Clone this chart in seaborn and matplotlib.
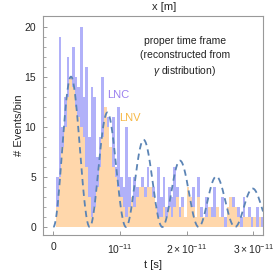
import numpy as np
import pandas as pd
import matplotlib
matplotlib.use("Agg")
import matplotlib.pyplot as plt
import seaborn as sns

sns.set_style("white")
plt.rcParams['font.family'] = ['Liberation Sans', 'DejaVu Sans']
plt.rcParams['mathtext.fontset'] = 'custom'
plt.rcParams['mathtext.rm'] = 'Liberation Sans'
plt.rcParams['mathtext.it'] = 'Liberation Sans:italic'

# bins in units of 1e-11 s
bin_width = 0.04
bin_start = 0.04
lnc_counts = [5, 19, 10, 13, 17, 12, 18, 15, 14, 20, 13, 16, 9, 14, 13, 7, 9, 15, 9, 11,
              8, 11, 6, 12, 5, 4, 10, 5, 3, 5, 4, 3, 5, 4, 6, 3, 4, 2, 6, 3,
              5, 2, 4, 3, 6, 4, 2, 3, 1, 3, 2, 4, 1, 5, 2, 1, 3, 1, 2, 4,
              2, 1, 3, 1, 2, 1, 3, 1, 2, 1, 3, 1, 2, 1, 1, 2, 1, 1]
lnv_counts = [2, 5, 8, 10, 13, 15, 14, 12, 11, 10, 9, 6, 3, 1, 2, 4, 6, 9, 12, 10,
              8, 6, 5, 4, 3, 2, 1, 2, 3, 2, 3, 4, 4, 3, 4, 4, 3, 2, 1, 1,
              2, 1, 2, 1, 2, 3, 1, 2, 1, 4, 3, 2, 1, 3, 1, 1, 1, 2, 1, 1,
              2, 1, 1, 0, 2, 3, 2, 2, 1, 0, 1, 1, 1, 0, 1, 0, 1, 0]

# theoretical oscillation curve parameters (units of 1e-11 s)
osc_amplitude = 17.2
osc_decay = 2.0
osc_period = 0.545

x_ticks = [0, 1, 2, 3]
x_tick_labels = ["0", r"$10^{-11}$", r"$2\times10^{-11}$", r"$3\times10^{-11}$"]
y_ticks = [0, 5, 10, 15, 20]

n = len(lnc_counts)
centers = bin_start + bin_width * (np.arange(n) + 0.5)
df = pd.DataFrame({"t": centers, "LNC": lnc_counts, "LNV": lnv_counts})
brange = (bin_start, bin_start + bin_width * n)

fig = plt.figure(figsize=(2.8, 2.75), dpi=100)
ax = fig.add_axes([43/280, 40/275, 220/280, 219/275])

sns.histplot(data=df, x="t", weights="LNC", binwidth=bin_width, binrange=brange, ax=ax,
             color="#b1b1f9", alpha=1.0, linewidth=0, element="bars")
sns.histplot(data=df, x="t", weights="LNV", binwidth=bin_width, binrange=brange, ax=ax,
             color="#ffd7ab", alpha=1.0, linewidth=0, element="bars")

tt = np.linspace(0, 3.145, 600)
curve = osc_amplitude * np.exp(-tt / osc_decay) * np.sin(np.pi * tt / osc_period) ** 2
sns.lineplot(x=tt, y=curve, ax=ax, color="#5b84b5", linewidth=1.3,
             linestyle=(0, (3.5, 2.4)))

ax.set_xlim(-0.155, 3.145)
ax.set_ylim(-0.8, 21.1)
ax.set_xticks(x_ticks)
ax.set_xticklabels(x_tick_labels)
ax.set_yticks(y_ticks)
ax.set_yticks(np.arange(0, 21, 1), minor=True)
ax.tick_params(axis='both', which='major', direction='in', length=3, width=0.6,
               color="#888888", labelsize=7.5, pad=5, left=True, bottom=True)
ax.tick_params(axis='y', which='minor', direction='in', length=1.8, width=0.5,
               color="#888888", left=True)
for s in ax.spines.values():
    s.set_color("#999999")
    s.set_linewidth(0.8)

ax.set_xlabel("t [s]", fontsize=8)
ax.xaxis.set_label_coords(0.5, -(265 - 235) / 219)
ax.xaxis.label.set_va('center')
ax.set_ylabel("# Events/bin", fontsize=8)
ax.yaxis.set_label_coords((19.5 - 43) / 220, 0.5)
ax.yaxis.label.set_va('center')
ax.text((164 - 43) / 220, 1 + (16 - 7.5) / 219, "x [m]", transform=ax.transAxes,
        ha='center', va='center', fontsize=8)

ax.text(1.975, 17.0, "proper time frame\n(reconstructed from\n" + r"$\it{\gamma}$" + " distribution)",
        ha='center', va='center', fontsize=7.5, linespacing=1.4, color="#222222")
ax.text(0.97, 13.2, "LNC", ha='center', va='center', fontsize=8, color="#9b80ee")
ax.text(1.15, 10.9, "LNV", ha='center', va='center', fontsize=8, color="#f6b845")

fig.savefig("out.png", dpi=100)
